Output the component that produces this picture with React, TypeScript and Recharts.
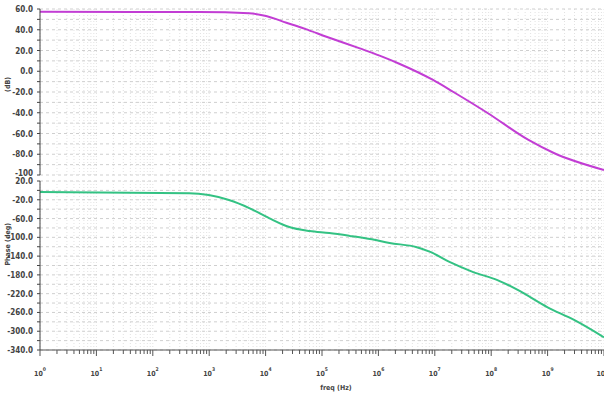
import React from "react";
import { LineChart, Line, XAxis, YAxis, CartesianGrid } from "recharts";

// gain curve (dB)
const gainFreq = [1, 660, 5100, 10200, 23400, 50000, 120000, 468000, 1.05e6, 2.4e6, 9.3e6, 2.14e7, 8.5e7, 4.5e8, 1.29e9, 1e10];
const gainDb = [57.3, 57.0, 55.9, 53.3, 46.8, 40.8, 33.3, 22, 15, 7, -8.4, -20, -40, -66, -78.8, -95.2];

// phase curve (deg)
const phaseFreq = [1, 440, 980, 2240, 5130, 11500, 26300, 60300, 1.35e5, 3.1e5, 7.1e5, 1.58e6, 4.8e6, 8.3e6, 1.86e7, 4.8e7, 1.29e8, 2.95e8, 1e9, 2.95e9, 1e10];
const phaseDeg = [-3.5, -6, -10, -20.5, -37.6, -59, -78, -86.6, -91, -97, -103.7, -112, -121, -131, -153, -174, -191, -212, -249, -276, -313];

const decades = [0, 1, 2, 3, 4, 5, 6, 7, 8, 9, 10];
const gainTicks = [60, 50, 40, 30, 20, 10, 0, -10, -20, -30, -40, -50, -60, -70, -80, -90, -100];
const gainLabels: Record<number, string> = { 60: "60.0", 40: "40.0", 20: "20.0", 0: "0.0", [-20]: "-20.0", [-40]: "-40.0", [-60]: "-60.0", [-80]: "-80.0", [-100]: "-100" };
const phaseTicks = [20, 0, -20, -40, -60, -80, -100, -120, -140, -160, -180, -200, -220, -240, -260, -280, -300, -320, -340];
const phaseLabels: Record<number, string> = { 20: "20.0", [-20]: "-20.0", [-60]: "-60.0", [-100]: "-100.0", [-140]: "-140.0", [-180]: "-180.0", [-220]: "-220.0", [-260]: "-260.0", [-300]: "-300.0", [-340]: "-340.0" };

const gainData = gainFreq.map((f, i) => ({ f, v: gainDb[i] }));
const phaseData = phaseFreq.map((f, i) => ({ f, v: phaseDeg[i] }));

// major + minor log ticks
const xTicks: number[] = [];
decades.forEach((d) => {
  const base = Math.pow(10, d);
  xTicks.push(base);
  if (d < 10) for (let k = 2; k <= 9; k++) xTicks.push(base * k);
});

const font = "'Liberation Sans Narrow', 'DejaVu Sans Condensed', Arial, sans-serif";

const isDecade = (v: number) => Math.abs(Math.log10(v) - Math.round(Math.log10(v))) < 1e-9;

const YTick = (labels: Record<number, string>, shift = 0) => (props: any) => {
  const { x, y, payload } = props;
  const t = labels[payload.value];
  if (!t) return <g />;
  return (
    <text x={x} y={y} dy={3 + (payload.value === -100 ? shift : 0)} textAnchor="end" fontSize={8} fontWeight="bold" fill="#444" fontFamily={font}>
      {t}
    </text>
  );
};

const XTick = (props: any) => {
  const { x, y, payload } = props;
  const major = isDecade(payload.value);
  return (
    <g>
      <line x1={x} x2={x} y1={y} y2={y + (major ? 6 : 4)} stroke="#555" strokeWidth={1} />
      {major && (
        <text x={x} y={y + 26} textAnchor="middle" fontSize={7} fontWeight="bold" fill="#444" fontFamily={font}>
          10
          <tspan dy={-5} fontSize={5}>{Math.round(Math.log10(payload.value))}</tspan>
        </text>
      )}
    </g>
  );
};

export default function App() {
  return (
    <div style={{ position: "absolute", left: 0, top: 0, width: 604, height: 394, overflow: "hidden", background: "#fff" }}>
      <div style={{ position: "absolute", left: 0, top: 0 }}>
        <LineChart width={612} height={178} data={gainData} margin={{ top: 9, right: 8, bottom: 3, left: 0 }}>
          <CartesianGrid horizontal={false} stroke="#e2e2e2" strokeDasharray="1 2" />
          <CartesianGrid vertical={false} stroke="#cfcfcf" strokeDasharray="3 3" />
          <XAxis dataKey="f" type="number" scale="log" domain={[1, 1e10]} ticks={xTicks} interval={0} hide />
          <YAxis
            type="number"
            domain={[-100, 60]}
            ticks={gainTicks}
            interval={0}
            width={40}
            stroke="#444"
            tickSize={3}
            tickMargin={4}
            tick={YTick(gainLabels, -2)}
            label={{ value: "(dB)", angle: -90, position: "insideLeft", offset: 8, fontSize: 7, fontWeight: "bold", fill: "#444", fontFamily: font }}
          />
          <Line dataKey="v" type="monotone" stroke="#c23dd4" strokeWidth={2} dot={false} isAnimationActive={false} />
        </LineChart>
      </div>
      <div style={{ position: "absolute", left: 0, top: 172 }}>
        <LineChart width={612} height={222} data={phaseData} margin={{ top: 9, right: 8, bottom: 0, left: 0 }}>
          <CartesianGrid horizontal={false} stroke="#e2e2e2" strokeDasharray="1 2" />
          <CartesianGrid vertical={false} stroke="#cfcfcf" strokeDasharray="3 3" />
          <XAxis
            dataKey="f"
            type="number"
            scale="log"
            domain={[1, 1e10]}
            ticks={xTicks}
            interval={0}
            height={44}
            stroke="#555"
            tickSize={0}
            tickMargin={0}
            tickLine={false}
            tick={XTick}
            label={{ value: "freq (Hz)", position: "insideBottom", offset: 4, dx: 14, fontSize: 7, fontWeight: "bold", fill: "#444", fontFamily: font }}
          />
          <YAxis
            type="number"
            domain={[-340, 20]}
            ticks={phaseTicks}
            interval={0}
            width={40}
            stroke="#444"
            tickSize={3}
            tickMargin={4}
            tick={YTick(phaseLabels)}
            label={{ value: "Phase (deg)", angle: -90, position: "insideLeft", offset: 8, fontSize: 7, fontWeight: "bold", fill: "#444", fontFamily: font }}
          />
          <Line dataKey="v" type="monotone" stroke="#33c283" strokeWidth={2} dot={false} isAnimationActive={false} />
        </LineChart>
      </div>
    </div>
  );
}
